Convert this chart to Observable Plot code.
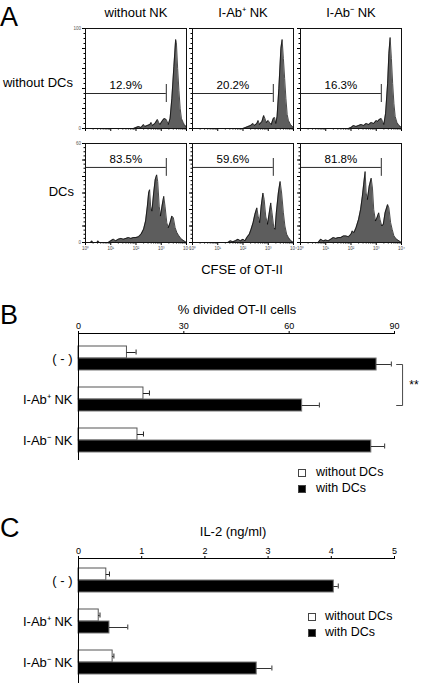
<!DOCTYPE html>
<html><head><meta charset="utf-8">
<script src="https://cdn.jsdelivr.net/npm/d3@7"></script>
<script src="https://cdn.jsdelivr.net/npm/@observablehq/plot@0.6"></script>
<style>
body{margin:0;background:#fff;font-family:"Liberation Sans",Arial,sans-serif;color:#000}
#fig{position:relative;width:422px;height:687px;overflow:hidden;background:#fff}
.abs{position:absolute;line-height:1}
.t{position:absolute;white-space:nowrap;line-height:1;font-size:13px}
.letter{position:absolute;font-size:27px;line-height:1}
.sw{position:absolute;width:6px;height:6px;border:1px solid #444;box-sizing:content-box}
</style></head><body><div id="fig"></div>
<script>
// ---------- Panel A: CFSE histograms (x = log10 CFSE, y = cell count) ----------
const colLabels = ["without NK", "I-Ab⁺ NK", "I-Ab⁻ NK"];
const rowLabels = ["without DCs", "DCs"];
const axisTitleA = "CFSE of OT-II";
const pctRow1 = ["12.9%", "20.2%", "16.3%"];
const pctRow2 = ["83.5%", "59.6%", "81.8%"];
const yMaxRows = [100, 60];
const decadeTicks = [0, 1, 2, 3, 4];
const decadeLabels = ["10⁰", "10¹", "10²", "10³", "10⁴"];
const gateEnd = 3.2;
const gateLevel = [35, 45.5];

const histNoNK_noDC = [[0,0],[1.9,0],[2.0,1],[2.1,2],[2.2,1],[2.3,4],[2.35,2],[2.45,3],[2.55,4],[2.6,6],[2.65,3],[2.75,5],[2.85,9],[2.9,6],[2.95,4],[3.05,8],[3.12,10],[3.2,9],[3.28,4],[3.35,10],[3.42,30],[3.5,62],[3.57,89],[3.6,86],[3.65,60],[3.7,38],[3.75,20],[3.8,10],[3.87,6],[3.93,3],[4.0,2]];
const histPosNK_noDC = [[0,0],[2.0,0],[2.1,1],[2.2,2],[2.3,3],[2.4,5],[2.45,3],[2.55,5],[2.6,8],[2.65,4],[2.75,7],[2.82,13],[2.87,10],[2.92,6],[3.0,8],[3.05,6],[3.12,4],[3.2,10],[3.25,11],[3.3,5],[3.35,12],[3.42,40],[3.5,80],[3.55,89],[3.6,70],[3.65,50],[3.7,30],[3.75,14],[3.8,8],[3.88,4],[3.95,2],[4.0,1]];
const histNegNK_noDC = [[0,0],[1.9,0],[2.0,1],[2.1,3],[2.2,2],[2.3,3],[2.4,4],[2.5,3],[2.6,5],[2.7,4],[2.8,6],[2.9,5],[3.0,8],[3.05,7],[3.12,9],[3.2,10],[3.25,7],[3.3,4],[3.37,15],[3.45,45],[3.5,75],[3.55,91],[3.6,70],[3.65,45],[3.7,25],[3.75,12],[3.82,6],[3.9,3],[4.0,1]];
const histNoNK_DC = [[0,0],[0.2,0],[0.25,1],[0.3,0],[0.45,0],[0.5,1],[0.55,0],[0.9,0],[1.0,1],[1.1,2],[1.2,1],[1.3,2],[1.4,2.5],[1.5,2],[1.6,2.5],[1.7,3],[1.8,2.5],[1.9,3],[2.0,3],[2.1,3.5],[2.2,5],[2.3,8],[2.38,13],[2.45,22],[2.5,30],[2.54,32],[2.58,22],[2.63,19],[2.7,30],[2.76,38],[2.82,41],[2.86,37],[2.92,22],[2.97,16],[3.03,22],[3.1,28],[3.15,22],[3.22,12],[3.28,9],[3.35,12],[3.42,16],[3.48,15],[3.55,9],[3.62,6],[3.7,4],[3.8,2],[3.9,1],[4.0,0]];
const histPosNK_DC = [[0,0],[1.4,0],[1.5,1],[1.6,0.5],[1.7,1],[1.8,2],[1.9,1],[2.0,2],[2.08,1],[2.15,3],[2.25,5],[2.32,8],[2.4,12],[2.47,17],[2.55,21],[2.6,16],[2.66,12],[2.72,22],[2.79,30],[2.84,26],[2.9,16],[2.97,11],[3.03,17],[3.1,24],[3.15,18],[3.22,9],[3.27,8],[3.32,18],[3.4,30],[3.47,37],[3.53,30],[3.6,18],[3.66,10],[3.73,5],[3.8,3],[3.9,1],[4.0,0]];
const histNegNK_DC = [[0,0],[0.7,0],[0.8,2],[0.9,1],[1.0,1.5],[1.1,1],[1.2,2],[1.3,3],[1.4,2.5],[1.5,3],[1.6,3],[1.7,4],[1.8,4],[1.9,3.5],[2.0,5],[2.05,7],[2.12,6],[2.2,9],[2.3,14],[2.38,20],[2.45,28],[2.5,35],[2.56,43],[2.6,30],[2.65,26],[2.72,34],[2.8,39],[2.85,33],[2.9,20],[2.97,13],[3.03,15],[3.1,18],[3.15,14],[3.22,10],[3.28,11],[3.35,18],[3.45,23],[3.5,21],[3.57,12],[3.63,8],[3.7,4],[3.8,2],[3.9,1],[4.0,0]];

// ---------- Panel B: % divided OT-II cells ----------
const groups = ["( - )", "I-Ab⁺ NK", "I-Ab⁻ NK"];
const seriesNames = ["without DCs", "with DCs"];
const divWithout = [13.8, 18.5, 16.8];
const divWithoutErr = [2.6, 1.7, 1.7];
const divWith = [84.9, 63.7, 83.4];
const divWithErr = [4.2, 4.9, 3.8];
const divTicks = [0, 30, 60, 90];
const divTitle = "% divided OT-II cells";
const sigPair = ["( - )", "I-Ab⁺ NK"];
const sigText = "**";

// ---------- Panel C: IL-2 ----------
const il2Without = [0.44, 0.32, 0.54];
const il2WithoutErr = [0.05, 0.02, 0.02];
const il2With = [4.04, 0.49, 2.82];
const il2WithErr = [0.07, 0.29, 0.24];
const il2Ticks = [0, 1, 2, 3, 4, 5];
const il2Title = "IL-2 (ng/ml)";

const FONT = "Liberation Sans, Arial, Helvetica, sans-serif";
const fig = document.getElementById("fig");

function place(node, left, top) {
  const d = document.createElement("div");
  d.className = "abs"; d.style.left = left + "px"; d.style.top = top + "px";
  d.appendChild(node); fig.appendChild(d); return d;
}
function text(str, left, top, cls, extra) {
  const d = document.createElement("div");
  d.className = cls || "t"; d.textContent = str;
  d.style.left = left + "px"; d.style.top = top + "px";
  if (extra) Object.assign(d.style, extra);
  fig.appendChild(d); return d;
}

const minorX = d3.range(0, 4).flatMap(k => d3.range(2, 10).map(m => k + Math.log10(m)));

function histogram(points, row, col, pct) {
  const yMax = yMaxRows[row];
  const yMajor = d3.range(0, yMax + 0.01, row === 0 ? 20 : 10);
  const yMinor = d3.range(0, yMax + 0.01, row === 0 ? 5 : 2.5);
  const ml = 18, mr = 3, mt = 4, mb = row === 0 ? 6 : 12;
  const fw = 101, fh = row === 0 ? 100 : 99;
  const fx = [85, 192, 300][col], fy = row === 0 ? 28 : 143;
  const gy = gateLevel[row];
  const gh = row === 0 ? 9 : 5.4;
  const showY = col === 0;
  const p = Plot.plot({
    width: ml + fw + mr, height: mt + fh + mb,
    marginLeft: ml, marginRight: mr, marginTop: mt, marginBottom: mb,
    style: {fontFamily: FONT, background: "transparent", overflow: "visible"},
    x: {domain: [0, 4]},
    y: {domain: [0, yMax]},
    marks: [
      Plot.areaY(points, {x: d => d[0], y: d => d[1], fill: "#5d5d5d"}),
      Plot.lineY(points, {x: d => d[0], y: d => d[1], stroke: "#000", strokeWidth: 0.7}),
      Plot.ruleY([gy], {x1: 0, x2: gateEnd, stroke: "#111", strokeWidth: 0.9}),
      Plot.ruleX([gateEnd], {y1: gy - gh, y2: gy + gh, stroke: "#111", strokeWidth: 0.9}),
      Plot.text([pct], {x: gateEnd / 2, y: gy, dy: -8, text: d => d, fontSize: 11.5, fill: "#000"}),
      Plot.axisX({ticks: decadeTicks, tickSize: 3, tickPadding: 1.5, label: null, fontSize: 4.5, fill: "#444",
        tickFormat: d => row === 1 ? decadeLabels[decadeTicks.indexOf(d)] : ""}),
      Plot.axisX({ticks: minorX, tickSize: 1.5, label: null, tickFormat: () => ""}),
      Plot.axisY({ticks: yMajor, tickSize: 3, tickPadding: 1.5, label: null, fontSize: 4.5, fill: "#555",
        tickFormat: d => (showY && (d === 0 || d === yMax)) ? String(d) : ""}),
      Plot.axisY({ticks: yMinor, tickSize: 1.5, label: null, tickFormat: () => ""}),
      Plot.frame({stroke: "#111", strokeWidth: 1})
    ]
  });
  place(p, fx - ml, fy - mt);
}

histogram(histNoNK_noDC, 0, 0, pctRow1[0]);
histogram(histPosNK_noDC, 0, 1, pctRow1[1]);
histogram(histNegNK_noDC, 0, 2, pctRow1[2]);
histogram(histNoNK_DC, 1, 0, pctRow2[0]);
histogram(histPosNK_DC, 1, 1, pctRow2[1]);
histogram(histNegNK_DC, 1, 2, pctRow2[2]);

// Panel A text
text("A", 0, 4, "letter");
[136, 243, 351].forEach((cx, i) => text(colLabels[i], cx, 6, "t", {transform: "translateX(-50%)"}));
text(rowLabels[0], 73, 76, "t", {transform: "translateX(-100%)"});
text(rowLabels[1], 74, 185, "t", {transform: "translateX(-100%)"});
text(axisTitleA, 242, 263, "t", {transform: "translateX(-50%)"});

// ---------- grouped horizontal bar chart helper ----------
function barChart(cfg) {
  const rows = groups.flatMap((g, i) => [
    {g, s: seriesNames[0], v: cfg.without[i], e: cfg.withoutErr[i]},
    {g, s: seriesNames[1], v: cfg.with[i], e: cfg.withErr[i]}
  ]);
  const W = rows.filter(d => d.s === seriesNames[0]);
  const B = rows.filter(d => d.s === seriesNames[1]);
  const half = 12;
  const extra = cfg.extraMarks ? cfg.extraMarks() : [];
  return Plot.plot({
    width: 422, height: cfg.height,
    marginLeft: 78, marginRight: 28, marginTop: cfg.marginTop, marginBottom: 0,
    style: {fontFamily: FONT, background: "transparent", overflow: "visible"},
    x: {domain: cfg.domain},
    y: {domain: groups, paddingInner: cfg.pi, paddingOuter: cfg.po, align: cfg.align},
    marks: [
      Plot.barX(W, {y: "g", x: "v", fill: "#fff", stroke: "#555", strokeWidth: 1, insetBottom: half}),
      Plot.barX(B, {y: "g", x: "v", fill: "#000", stroke: "#777", strokeWidth: 1, insetTop: half}),
      Plot.ruleY(W, {y: "g", x1: "v", x2: d => d.v + d.e, dy: -half / 2, stroke: "#222", strokeWidth: 1}),
      Plot.ruleY(B, {y: "g", x1: "v", x2: d => d.v + d.e, dy: half / 2, stroke: "#333", strokeWidth: 1}),
      Plot.tickX(W, {y: "g", x: d => d.v + d.e, insetTop: 3.5, insetBottom: half + 3.5, stroke: "#222", strokeWidth: 1}),
      Plot.tickX(B, {y: "g", x: d => d.v + d.e, insetTop: half + 3.5, insetBottom: 3.5, stroke: "#333", strokeWidth: 1}),
      Plot.ruleX([0], {stroke: "#000", strokeWidth: 1}),
      Plot.frame({anchor: "top", stroke: "#000", strokeWidth: 1}),
      Plot.axisX({anchor: "top", ticks: cfg.ticks, tickSize: 3, tickPadding: 2, fontSize: 9,
        label: null, tickFormat: d => String(d)}),
      Plot.axisY({tickSize: 0, tickPadding: 6, fontSize: 13, label: null}),
      ...extra
    ]
  });
}

// Panel B
const chartB = barChart({
  without: divWithout, withoutErr: divWithoutErr, with: divWith, withErr: divWithErr,
  domain: [0, 90], ticks: divTicks, height: 160, marginTop: 33,
  pi: 0.417, po: 0.25, align: 0.61,
  extraMarks: () => [
    Plot.line([{x: 90.6, y: sigPair[0]}, {x: 92.3, y: sigPair[0]}, {x: 92.3, y: sigPair[1]}, {x: 90.6, y: sigPair[1]}],
      {x: "x", y: "y", dy: 6, stroke: "#333", strokeWidth: 0.9}),
    Plot.text([sigText], {x: () => 94.2, y: () => sigPair[0], dy: 27, text: d => d, textAnchor: "start", fontSize: 12})
  ]
});
place(chartB, 0, 300);
text("B", 0, 302, "letter");
text(divTitle, 237, 303, "t", {transform: "translateX(-50%)"});
// legend B
[[298, 469, "#fff", seriesNames[0]], [298, 485, "#000", seriesNames[1]]].forEach(([x, y, c, s]) => {
  const sq = document.createElement("div"); sq.className = "sw";
  sq.style.left = x + "px"; sq.style.top = y + "px"; sq.style.background = c; fig.appendChild(sq);
  text(s, x + 18, y - 3, "t", {fontSize: "12.5px"});
});

// Panel C
const chartC = barChart({
  without: il2Without, withoutErr: il2WithoutErr, with: il2With, withErr: il2WithErr,
  domain: [0, 5], ticks: il2Ticks, height: 183, marginTop: 58,
  pi: 0.422, po: 0.217, align: 0.5
});
place(chartC, 0, 500);
text("C", 0, 515, "letter");
text(il2Title, 233, 525, "t", {transform: "translateX(-50%)"});
[[308, 613, "#fff", seriesNames[0]], [308, 629, "#000", seriesNames[1]]].forEach(([x, y, c, s]) => {
  const sq = document.createElement("div"); sq.className = "sw";
  sq.style.left = x + "px"; sq.style.top = y + "px"; sq.style.background = c; fig.appendChild(sq);
  text(s, x + 17, y - 3, "t", {fontSize: "12.5px"});
});
</script></body></html>
